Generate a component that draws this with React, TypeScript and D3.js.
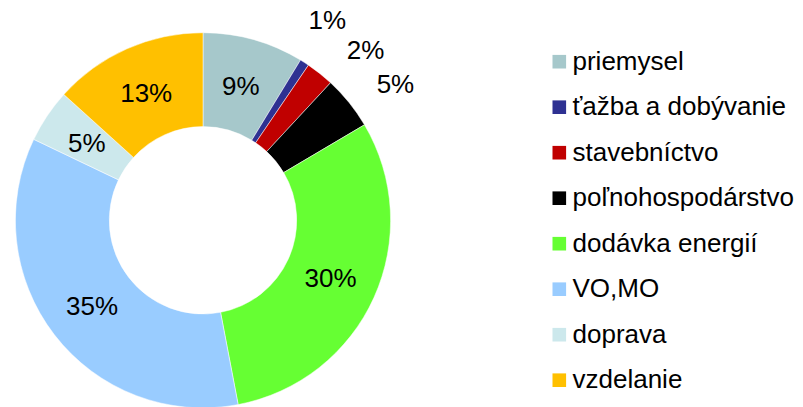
import React from "react";
import * as d3 from "d3";

const categories = [
  "priemysel",
  "ťažba a dobývanie",
  "stavebníctvo",
  "poľnohospodárstvo",
  "dodávka energií",
  "VO,MO",
  "doprava",
  "vzdelanie",
];
const values = [8.7, 0.8, 2.4, 4.6, 30.5, 35.1, 4.6, 13.3];
const labels = ["9%", "1%", "2%", "5%", "30%", "35%", "5%", "13%"];
const colors = ["#A6C8CB", "#2E3192", "#C00000", "#000000", "#66FF33", "#99CCFF", "#CCE8EC", "#FFC000"];
const labelOutside = [false, true, true, true, false, false, false, false];
// angular nudge (degrees) for labels that sit outside the ring
const outsideNudge = [0, -1, 5, 3.5, 0, 0, 0, 0];

const W = 803;
const H = 407;
const cx = 203;
const cy = 220.3;
const rOuter = 187.6;
const rInner = 93.7;
const FONT = "'Liberation Sans', Arial, sans-serif";

export default function App() {
  const pie = d3.pie<number>().value((d) => d).sort(null);
  const arcs = pie(values);
  const arcGen = d3.arc<d3.PieArcDatum<number>>().innerRadius(rInner).outerRadius(rOuter);
  const labelArc = d3.arc<d3.PieArcDatum<number>>().innerRadius(140).outerRadius(140);

  const legendY = d3.scaleLinear().domain([0, categories.length - 1]).range([61.7, 380.2]);

  return (
    <svg
      width={W}
      height={H}
      style={{ position: "absolute", left: 0, top: 0, display: "block", background: "#fff" }}
      fontFamily={FONT}
    >
      <g transform={`translate(${cx},${cy})`}>
        {arcs.map((a, i) => (
          <path key={i} d={arcGen(a) || ""} fill={colors[i]} stroke="#fff" strokeWidth={0.5} />
        ))}
        {arcs.map((a, i) => {
          let x: number, y: number;
          if (labelOutside[i]) {
            const mid = (a.startAngle + a.endAngle) / 2 + (outsideNudge[i] * Math.PI) / 180;
            const r = 236;
            x = Math.sin(mid) * r;
            y = -Math.cos(mid) * r;
          } else {
            [x, y] = labelArc.centroid(a);
          }
          return (
            <text
              key={i}
              x={x}
              y={y}
              dy="0.36em"
              textAnchor="middle"
              fontSize={26}
              fill="#000"
            >
              {labels[i]}
            </text>
          );
        })}
      </g>
      <g>
        {categories.map((c, i) => (
          <g key={i} transform={`translate(552.5,${legendY(i)})`}>
            <rect x={0} y={-6.8} width={13.6} height={13.6} fill={colors[i]} />
            <text x={20} y={8} fontSize={26} fill="#000">
              {c}
            </text>
          </g>
        ))}
      </g>
    </svg>
  );
}
